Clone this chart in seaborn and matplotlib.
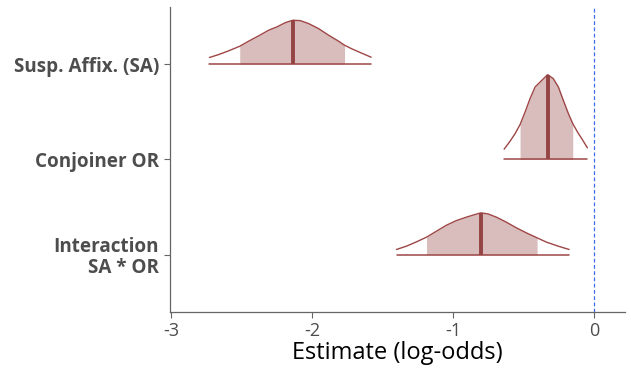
# Posterior areas plot (bayesplot-style) for the three model coefficients.
import numpy as np
import pandas as pd
import matplotlib
matplotlib.use("Agg")
import matplotlib.pyplot as plt
import seaborn as sns

# ── Data ─────────────────────────────────────────────────────────
PARAMS = ["Susp. Affix. (SA)", "Conjoiner OR", "Interaction\nSA * OR"]

SA_X = [-2.730, -2.664, -2.594, -2.515, -2.452, -2.381, -2.310, -2.251,
        -2.191, -2.137, -2.085, -2.026, -1.955, -1.884, -1.813, -1.771,
        -1.718, -1.648, -1.582]
SA_H = [0.070, 0.101, 0.140, 0.188, 0.241, 0.297, 0.356, 0.391,
        0.436, 0.461, 0.457, 0.426, 0.373, 0.304, 0.241, 0.199,
        0.160, 0.115, 0.073]

OR_X = [-0.638, -0.596, -0.560, -0.525, -0.489, -0.454, -0.418, -0.371,
        -0.329, -0.289, -0.253, -0.218, -0.182, -0.151, -0.118, -0.080,
        -0.047]
OR_H = [0.108, 0.192, 0.272, 0.366, 0.499, 0.639, 0.761, 0.830,
        0.890, 0.848, 0.761, 0.621, 0.482, 0.377, 0.290, 0.202,
        0.122]

INT_X = [-1.402, -1.331, -1.260, -1.189, -1.118, -1.047, -0.977, -0.906,
         -0.846, -0.804, -0.752, -0.693, -0.622, -0.551, -0.480, -0.404,
         -0.338, -0.255, -0.177]
INT_H = [0.056, 0.091, 0.136, 0.185, 0.248, 0.311, 0.359, 0.395,
         0.422, 0.440, 0.429, 0.395, 0.342, 0.283, 0.230, 0.178,
         0.133, 0.091, 0.056]

MEDIANS  = [-2.137, -0.329, -0.804]
INNER_LO = [-2.515, -0.525, -1.189]
INNER_HI = [-1.771, -0.151, -0.404]

X_TICKS = [-3, -2, -1, 0]

# ── Style ────────────────────────────────────────────────────────
FILL_COL = "#d9bdbd"
LINE_COL = "#9e4646"
MED_COL  = "#954444"
ZERO_COL = "#3d6cf0"

sns.set_theme(style="ticks")
plt.rcParams["font.family"] = ["Open Sans", "DejaVu Sans"]


def main():
    curves = [(SA_X, SA_H), (OR_X, OR_H), (INT_X, INT_H)]
    rows = []
    for i, (name, (xs, hs)) in enumerate(zip(PARAMS, curves)):
        pos = len(PARAMS) - i
        for x, h in zip(xs, hs):
            rows.append({"param": name, "pos": pos, "x": x, "h": h, "y": pos + h})
    df = pd.DataFrame(rows)

    fig = plt.figure(figsize=(6.31, 3.74), dpi=100)
    ax = fig.add_axes([0.2694, 0.1658, 0.7211, 0.8155])

    for i, name in enumerate(PARAMS):
        d = df[df["param"] == name].sort_values("x")
        pos = d["pos"].iloc[0]
        inner = d[(d["x"] >= INNER_LO[i] - 1e-9) & (d["x"] <= INNER_HI[i] + 1e-9)]
        ax.fill_between(inner["x"], pos, inner["y"], color=FILL_COL,
                        linewidth=0, zorder=1)
        # baseline across the outer interval
        ax.plot([d["x"].min(), d["x"].max()], [pos, pos], color=LINE_COL,
                linewidth=1.1, zorder=2)
        # median segment
        med_h = np.interp(MEDIANS[i], d["x"], d["h"])
        ax.plot([MEDIANS[i], MEDIANS[i]], [pos, pos + med_h], color=MED_COL,
                linewidth=2.8, zorder=3, solid_capstyle="butt")

    sns.lineplot(data=df, x="x", y="y", units="param", estimator=None,
                 color=LINE_COL, linewidth=1.0, sort=True, ax=ax, zorder=2)

    ax.axvline(0, color=ZERO_COL, linewidth=0.9, linestyle=(0, (3, 2)), zorder=0)

    ax.set_xlim(-3.01, 0.22)
    ax.set_ylim(0.4, 3.6)
    ax.set_xticks(X_TICKS)
    ax.set_xticklabels([str(t) if t >= 0 else "-" + str(-t) for t in X_TICKS])
    ax.set_yticks([len(PARAMS) - i for i in range(len(PARAMS))])
    ax.set_yticklabels(PARAMS, fontweight="bold", fontsize=13.6, color="#4d4d4d",
                       linespacing=1.05)
    ax.tick_params(axis="x", labelsize=13, labelcolor="#4d4d4d",
                   color="#666666", length=4, width=0.8, pad=3)
    ax.tick_params(axis="y", color="#666666", length=4, width=0.8, pad=4)
    ax.set_xlabel("Estimate (log-odds)", fontsize=17, color="black", labelpad=1)
    ax.set_ylabel("")

    for side in ["top", "right"]:
        ax.spines[side].set_visible(False)
    for side in ["left", "bottom"]:
        ax.spines[side].set_color("#666666")
        ax.spines[side].set_linewidth(0.9)

    fig.savefig("out.png", dpi=100)
    plt.close(fig)


if __name__ == "__main__":
    main()
